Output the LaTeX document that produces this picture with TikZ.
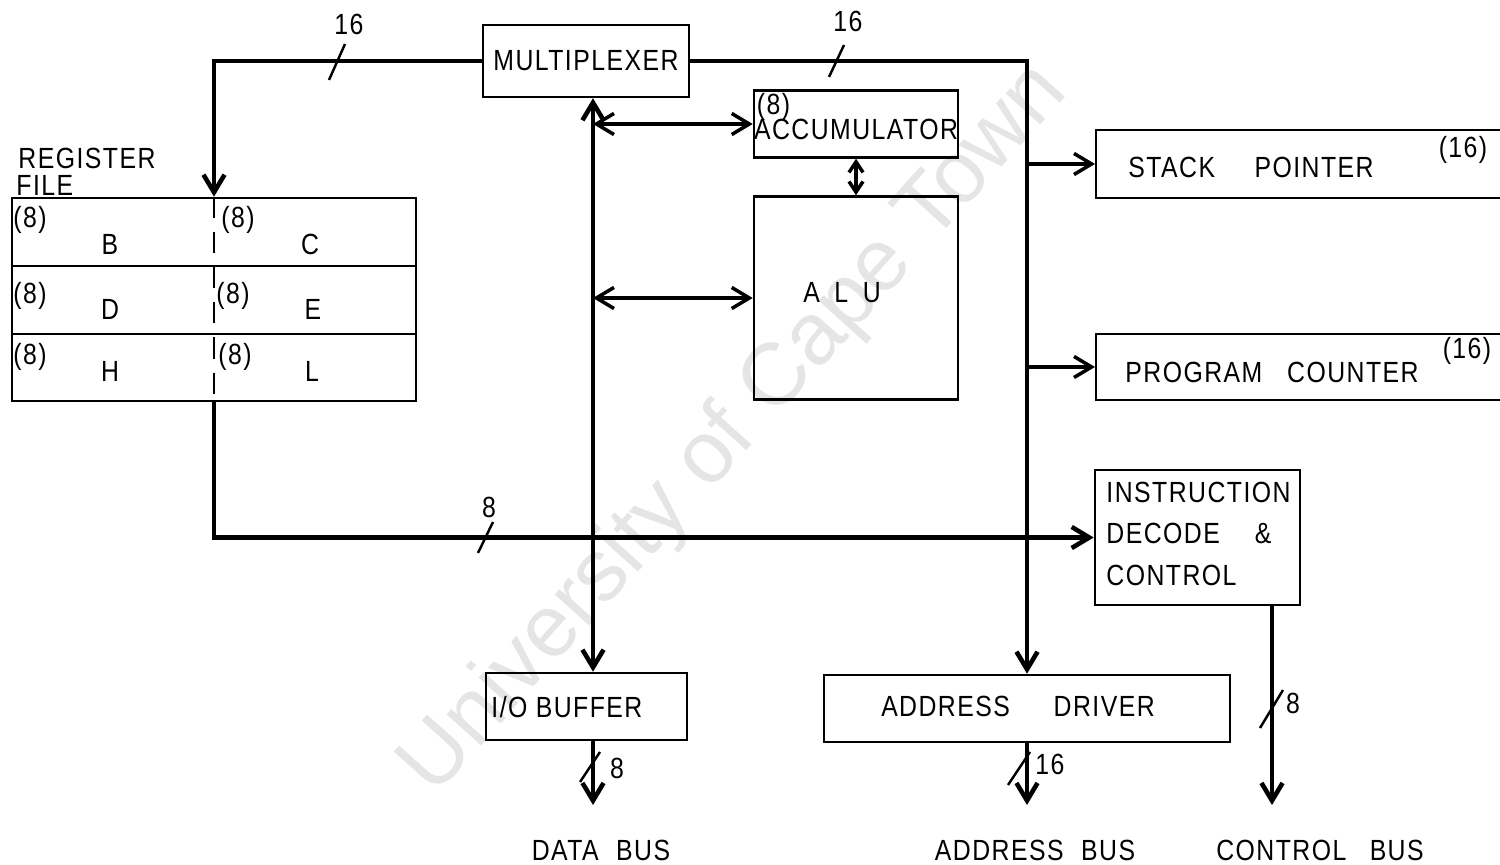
\documentclass[tikz,border=0pt]{standalone}
\usepackage{fontspec}
\setmainfont{Liberation Sans}[FakeStretch=0.85,LetterSpace=5]
\newfontfamily\wmfont{Liberation Sans}
\usetikzlibrary{arrows.meta}
\begin{document}
\begin{tikzpicture}[x=0.01cm,y=-0.01cm,
  font=\fontsize{8.3}{10}\selectfont,
  box/.style={draw,line width=0.7pt,inner sep=0pt},
  bus/.style={line width=1.3pt},
  sig/.style={line width=1pt},
  tick/.style={line width=0.7pt},
  >={Straight Barb[length=5pt,width=6pt]}]
\useasboundingbox (0,0) rectangle (1500,865);
% watermark
\node[rotate=48,text=black!10,font=\wmfont\fontsize{25}{25}\selectfont] (wm) at (735,430) {University of Cape Town};

% boxes
\node[box,minimum width=2.06cm,minimum height=0.72cm] (mux) at (586,61) {MULTIPLEXER};
\node[box,minimum width=2.04cm,minimum height=0.67cm] (acc) at (856,124) {};
\node (acct) at (856,129) {ACCUMULATOR};
\node[anchor=north west,inner sep=1pt] (acc8) at (acc.north west) {(8)};
\node[box,minimum width=2.04cm,minimum height=2.03cm] (alu) at (856,298) {};
\node (alut) at (842,293) {A\hspace{0.5em}L\hspace{0.5em}U};
\node[box,minimum width=4.15cm,minimum height=0.68cm,anchor=west] (sp) at (1095,164) {};
\node[anchor=west] (spt) at (1116,167) {STACK\hspace{1.35em}POINTER};
\node (sp16) at (1463,150) {(16)};
\node[box,minimum width=4.15cm,minimum height=0.66cm,anchor=west] (pc) at (1095,367) {};
\node[anchor=west] (pct) at (1113,372) {PROGRAM\hspace{0.85em}COUNTER};
\node (pc16) at (1467,351) {(16)};
\node[box,minimum width=2.05cm,minimum height=1.35cm] (idc) at (1197.5,537.5) {};
\node[anchor=north west,align=left,font=\fontsize{8.3}{11.7}\selectfont] (idct) at (1094,470) {INSTRUCTION\\DECODE\hspace{1.2em}\&\\CONTROL};
\node[box,minimum width=2.01cm,minimum height=0.67cm] (iob) at (586.5,706.5) {};
\node[anchor=west] (iobt) at (479,707) {I/O BUFFER};
\node[box,minimum width=4.06cm,minimum height=0.67cm] (adr) at (1027,708.5) {};
\node (adrt) at (1018,706) {ADDRESS\hspace{1.5em}DRIVER};

% register file
\node[anchor=west] (rft1) at (6,158) {REGISTER};
\node[anchor=west] (rft2) at (4,185) {FILE};
\node[box,minimum width=4.04cm,minimum height=0.68cm] (rbc) at (214,232) {};
\node[box,minimum width=4.04cm,minimum height=0.68cm] (rde) at (214,300) {};
\node[box,minimum width=4.04cm,minimum height=0.67cm] (rhl) at (214,367.5) {};
\draw[line width=0.7pt,dash pattern=on 6pt off 4pt] (rbc.north) -- (rhl.south);
\node (b8) at (30,220) {(8)};
\node (bB) at (110,244) {B};
\node (c8) at (238,220) {(8)};
\node (cC) at (310,244) {C};
\node (d8) at (30,296) {(8)};
\node (dD) at (110,309) {D};
\node (e8) at (233,296) {(8)};
\node (eE) at (313,309) {E};
\node (h8) at (30,357) {(8)};
\node (hH) at (110,371) {H};
\node (l8) at (235,357) {(8)};
\node (lL) at (312,371) {L};

% helper coordinates
\coordinate (dx) at (593,0);
\coordinate (ax) at (1027,0);
\coordinate (dbus) at (593,805);
\coordinate (abus) at (1027,805);
\coordinate (cbus) at (1272,805);

% connectors
\draw[bus,->] (mux.west) -| (rbc.north);
\draw[bus,->] (mux.east) -| (adr.north);
\draw[sig,->] (sp.west -| ax) -- (sp.west);
\draw[sig,->] (pc.west -| ax) -- (pc.west);
\draw[bus,<->] (mux.south -| dx) -- (iob.north -| dx);
\draw[sig,<->] (acc.west -| dx) -- (acc.west);
\draw[sig,<->] (alu.west -| dx) -- (alu.west);
\draw[sig,<->,>={Straight Barb[length=3pt,width=4pt]}] (acc.south) -- (alu.north);
\draw[bus,->] (rhl.south) |- (idc.west);
\draw[bus,->] (idc.south -| cbus) -- (cbus);
\draw[bus,->] (iob.south -| dbus) -- (dbus);
\draw[bus,->] (adr.south) -- (abus);

% bus width ticks and labels
\draw[tick] (329,80) -- (345,44);
\node (w1) at (349,24) {16};
\draw[tick] (829,77) -- (844,45);
\node (w2) at (848,21) {16};
\draw[tick] (478,553) -- (493,522);
\node (w3) at (489,507) {8};
\draw[tick] (580,782) -- (600,752);
\node (w4) at (617,768) {8};
\draw[tick] (1008,785) -- (1030,752);
\node (w5) at (1050,764) {16};
\draw[tick] (1260,728) -- (1283,690);
\node (w6) at (1293,703) {8};

% bus names
\node (dbn) at (601,850) {DATA\hspace{0.6em}BUS};
\node (abn) at (1035,850) {ADDRESS\hspace{0.6em}BUS};
\node (cbn) at (1320,850) {CONTROL\hspace{0.8em}BUS};
\end{tikzpicture}
\end{document}
